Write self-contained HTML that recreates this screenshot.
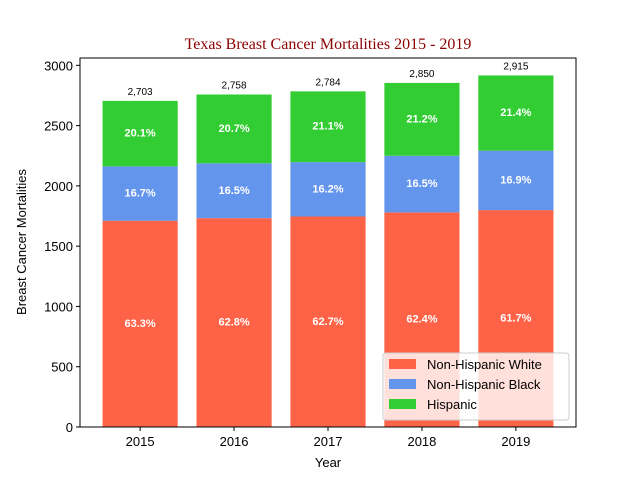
<!DOCTYPE html>
<html><head><meta charset="utf-8"><style>
body{margin:0;background:#fff;}
svg{display:block;font-family:"Liberation Sans",sans-serif;}
</style></head><body>
<svg id="chart" width="640" height="480"></svg>
<script>
const years=["2015","2016","2017","2018","2019"];
const white=[1711,1732,1746,1780,1799];
const black=[451,455,451,470,493];
const hispanic=[543,571,587,604,624];
const totalsLabel=["2,703","2,758","2,784","2,850","2,915"];
const yTicks=[0,500,1000,1500,2000,2500,3000];

const NS="http://www.w3.org/2000/svg";
const svg=document.getElementById('chart');
const L=80,R=576,T=58,B=427;
const yMax=3060.75;
function ys(v){return B-(v/yMax)*(B-T);}
function xs(i){return L+(i+0.64)*(R-L)/5.28;}
const bw=0.8*(R-L)/5.28;
function el(tag,attrs,txt){const e=document.createElementNS(NS,tag);for(const k in attrs)e.setAttribute(k,attrs[k]);if(txt!==undefined)e.textContent=txt;svg.appendChild(e);return e;}

let t=el('text',{x:328,y:49,'text-anchor':'middle','font-size':16,fill:'#8b0000','font-family':'"Liberation Serif",serif'},'Texas Breast Cancer Mortalities 2015 - 2019');



const series=[{d:white,c:'#ff6347',n:'white'},{d:black,c:'#6495ed',n:'black'},{d:hispanic,c:'#32cd32',n:'hispanic'}];
years.forEach((y,i)=>{
  const total=white[i]+black[i]+hispanic[i];
  let base=0;
  series.forEach(s=>{
    const v=s.d[i];
    const r=el('rect',{x:xs(i)-bw/2,y:ys(base+v),width:bw,height:ys(base)-ys(base+v),fill:s.c});
    
    
    const lb=el('text',{x:xs(i),y:ys(base+v/2)+3,'text-anchor':'middle','font-size':11,'font-weight':'bold',fill:'#fff'},(v/total*100).toFixed(1)+'%');
    
    
    base+=v;
  });
  const tl=el('text',{x:xs(i),y:ys(total)-6,'text-anchor':'middle','font-size':10,fill:'#000'},totalsLabel[i]);
  
  
  el('line',{x1:xs(i),x2:xs(i),y1:B,y2:B+4,stroke:'#000'});
  const xl=el('text',{x:xs(i),y:B+19,'text-anchor':'middle','font-size':13},y);
  
  
});
yTicks.forEach(v=>{
  el('line',{x1:L-4,x2:L,y1:ys(v),y2:ys(v),stroke:'#000'});
  const yl=el('text',{x:L-7,y:ys(v)+5,'text-anchor':'end','font-size':13},String(v));
  
  
});
const ax=el('rect',{x:L,y:T,width:R-L,height:B-T,fill:'none',stroke:'#000','stroke-width':1});


const xt=el('text',{x:328,y:467,'text-anchor':'middle','font-size':13},'Year');


const yt=el('text',{x:26,y:242,'text-anchor':'middle','font-size':13,transform:'rotate(-90 26 242)'},'Breast Cancer Mortalities');



const lg=el('rect',{x:383,y:353,width:186,height:67,fill:'#fff','fill-opacity':0.8,stroke:'#ccc',rx:3});


const names=['Non-Hispanic White','Non-Hispanic Black','Hispanic'];
names.forEach((n,k)=>{
  const yy=359+k*20;
  el('rect',{x:389,y:yy,width:27,height:10,fill:series[k].c});
  const le=el('text',{x:427,y:yy+10,'font-size':13},n);
  
  
});
</script>
</body></html>
